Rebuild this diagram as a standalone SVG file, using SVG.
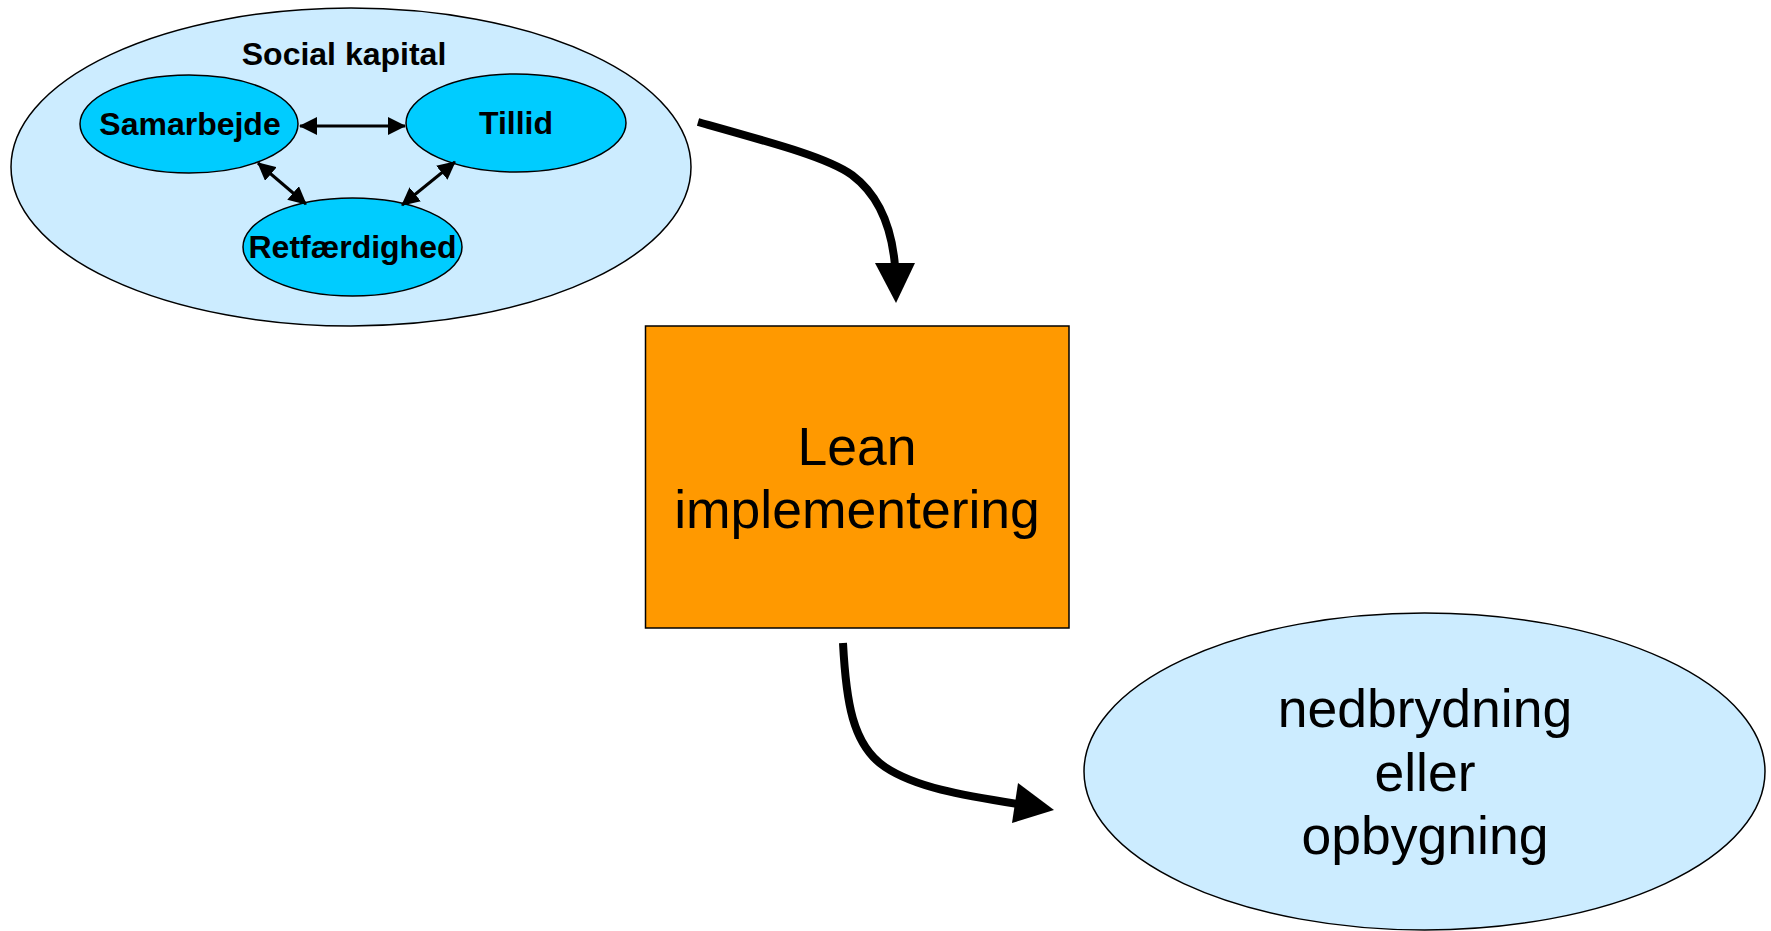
<svg xmlns="http://www.w3.org/2000/svg" width="1771" height="931" viewBox="0 0 1771 931">
  <style>
    .outer { fill: #CCECFF; stroke: #000; stroke-width: 1.5; }
    .inner { fill: #00CCFF; stroke: #000; stroke-width: 1.5; }
    .box { fill: #FF9900; stroke: #000; stroke-width: 1.5; }
    .lblb { font-family: "Liberation Sans", Arial, sans-serif; font-weight: bold; font-size: 32px; text-anchor: middle; fill: #000; }
    .lbl { font-family: "Liberation Sans", Arial, sans-serif; font-size: 53.5px; text-anchor: middle; fill: #000; }
    .thin { fill: none; stroke: #000; stroke-width: 3; marker-start: url(#tip); marker-end: url(#tip); }
    .thick { fill: none; stroke: #000; stroke-width: 8; }
  </style>
  <defs>
    <marker id="tip" viewBox="0 0 18 18" refX="17" refY="9" markerWidth="18" markerHeight="18" markerUnits="userSpaceOnUse" orient="auto-start-reverse">
      <path d="M0 0 L18 9 L0 18 Z" fill="#000"/>
    </marker>
  </defs>

  <rect width="1771" height="931" fill="#fff"/>

  <g id="social-kapital">
    <ellipse class="outer" cx="351" cy="167" rx="340" ry="159"/>
    <text class="lblb" x="344" y="65">Social kapital</text>
  </g>

  <g id="samarbejde">
    <ellipse class="inner" cx="189" cy="124" rx="109" ry="49"/>
    <text class="lblb" x="190" y="135">Samarbejde</text>
  </g>

  <g id="tillid">
    <ellipse class="inner" cx="516" cy="123" rx="110" ry="49"/>
    <text class="lblb" x="516" y="134">Tillid</text>
  </g>

  <g id="retfaerdighed">
    <ellipse class="inner" cx="352.5" cy="247" rx="109.5" ry="49"/>
    <text class="lblb" x="352.5" y="258">Retfærdighed</text>
  </g>

  <g id="lean">
    <rect class="box" x="645.5" y="326" width="423.5" height="302"/>
    <text class="lbl" x="857" y="465">Lean</text>
    <text class="lbl" x="857" y="528">implementering</text>
  </g>

  <g id="resultat">
    <ellipse class="outer" cx="1424.5" cy="771.5" rx="340.5" ry="158.5"/>
    <text class="lbl" x="1425" y="727">nedbrydning</text>
    <text class="lbl" x="1425" y="791">eller</text>
    <text class="lbl" x="1425" y="854">opbygning</text>
  </g>

  <g id="connectors">
    <!-- relations inside social capital -->
    <line class="thin" x1="300" y1="126" x2="405" y2="126"/>
    <line class="thin" x1="258" y1="163" x2="306" y2="204"/>
    <line class="thin" x1="455" y1="162" x2="402" y2="205"/>

    <!-- social capital -> lean -->
    <path class="thick" d="M698 122 C780 145 828 158 852 175 C880 196 892 230 895 266"/>
    <polygon points="896,303 875,263 915,263" fill="#000"/>

    <!-- lean -> outcome -->
    <path class="thick" d="M843 643 C846 700 852 745 885 767 C915 787 960 795 1018 804"/>
    <polygon points="1054,810 1018,783 1012,823" fill="#000"/>
  </g>
</svg>
